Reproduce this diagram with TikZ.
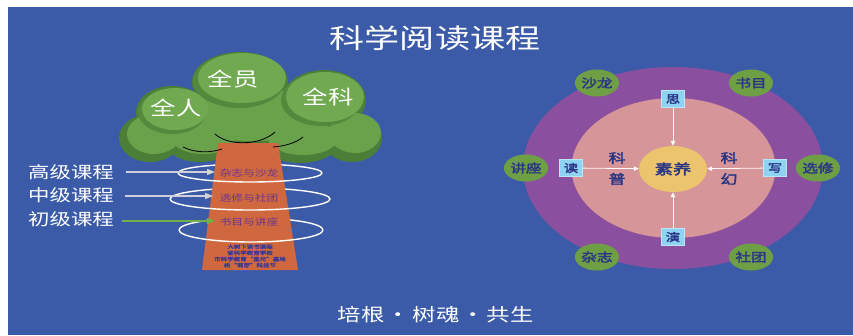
\documentclass[tikz,border=0pt]{standalone}
\usepackage{fontspec}
\setmainfont{Noto Sans CJK SC}[FakeStretch=1.3]
\newfontfamily\heavy{Noto Sans CJK SC}[FakeStretch=1.3,FakeBold=2.6]
\usetikzlibrary{arrows.meta,shapes.geometric}

\definecolor{bgblue}{HTML}{3B5BA8}
\definecolor{leafdark}{HTML}{4B7F37}
\definecolor{leafmid}{HTML}{6AA24B}
\definecolor{leaflight}{HTML}{70A950}
\definecolor{bark}{HTML}{D0683F}
\definecolor{barktext}{HTML}{6A3590}
\definecolor{barksmall}{HTML}{3C3A96}
\definecolor{outerring}{HTML}{8A4F9F}
\definecolor{innerring}{HTML}{D59599}
\definecolor{coregold}{HTML}{ECC46D}
\definecolor{boxblue}{HTML}{8FD3F2}
\definecolor{badgegreen}{HTML}{6E9F45}
\definecolor{navy}{HTML}{2A3585}
\definecolor{arrowgrey}{HTML}{D0D0DC}
\definecolor{arrowhead}{HTML}{E6EC9A}
\definecolor{arrowgreen}{HTML}{6FB048}

\tikzset{
  levellabel/.style={text=white, font=\fontsize{16.5}{18}\selectfont, inner sep=0pt},
  levelarrow/.style={line width=1.3pt, -{Triangle[length=8pt,width=6pt]}},
  barklabel/.style={text=barktext, font=\fontsize{9}{10}\selectfont, inner sep=0pt},
  ring/.style={white, line width=1.4pt},
  canopytext/.style={text=white, font=\fontsize{19.5}{21}\selectfont, inner sep=0pt},
  keybox/.style={fill=boxblue, draw=boxblue!60!white, line width=0.6pt,
    minimum width=23pt, minimum height=17pt, inner sep=0pt,
    text=navy, font=\heavy\fontsize{11}{12}\selectfont},
  badge/.style={ellipse, fill=badgegreen, minimum width=38pt, minimum height=27pt,
    inner sep=0pt, text=navy, font=\heavy\fontsize{12}{13}\selectfont},
  sidechar/.style={text=navy, font=\heavy\fontsize{13}{14}\selectfont, inner sep=0pt},
  feed/.style={draw=white!90!pink, line width=0.8pt, -{Triangle[length=5pt,width=4.5pt]}},
  motto/.style={text=white, font=\fontsize{18}{20}\selectfont, inner sep=0pt}
}

\begin{document}
\begin{tikzpicture}[x=1pt,y=-1pt]
\useasboundingbox (0,0) rectangle (853,335);
\fill[white] (0,0) rectangle (853,335);
\fill[bgblue] (8,7) rectangle (853,335);

% heading
\node[text=white, font=\fontsize{27}{30}\selectfont, inner sep=0pt] (title) at (435,38) {科学阅读课程};

% ---------- tree: canopy ----------
\fill[leafdark] (150,138) ellipse [x radius=31, y radius=24];
\fill[leafdark] (200,142) ellipse [x radius=35, y radius=20];
\fill[leafdark] (300,143) ellipse [x radius=38, y radius=20];
\fill[leafdark] (352,138) ellipse [x radius=30, y radius=24];
\fill[leafdark] (250,120) ellipse [x radius=85, y radius=30];
\fill[leafdark] (172,112) ellipse [x radius=36, y radius=26];
\fill[leafdark] (240,82) ellipse [x radius=48, y radius=30];
\fill[leafdark] (324,100) ellipse [x radius=42, y radius=30];

\fill[leafmid] (154,134) ellipse [x radius=27, y radius=20];
\fill[leafmid] (203,137) ellipse [x radius=32, y radius=17];
\fill[leafmid] (303,138) ellipse [x radius=35, y radius=17];
\fill[leafmid] (355,133) ellipse [x radius=26, y radius=20];
\fill[leafmid] (252,115) ellipse [x radius=80, y radius=26];

% upper lobes, each with a shadow rim
\fill[leafdark!70!leafmid] (172,112) ellipse [x radius=34, y radius=22];
\fill[leaflight] (175,109) ellipse [x radius=33, y radius=21];
\fill[leafdark!70!leafmid] (239,81) ellipse [x radius=46, y radius=27];
\fill[leaflight] (242,78) ellipse [x radius=44, y radius=25];
\fill[leafdark!70!leafmid] (321,100) ellipse [x radius=40, y radius=26];
\fill[leaflight] (325,97) ellipse [x radius=39, y radius=25];

\node[canopytext] (whole) at (176,108) {全人};
\node[canopytext] (staff) at (233,79) {全员};
\node[canopytext] (subj) at (328,97) {全科};

% back halves of the rings
\draw[ring] (250,173) ++(-72,0) arc[start angle=180, end angle=360, x radius=72, y radius=9];
\draw[ring] (250,199) ++(-80,0) arc[start angle=180, end angle=360, x radius=80, y radius=11];
\draw[ring] (251,230) ++(-72,0) arc[start angle=180, end angle=360, x radius=72, y radius=12];

% ---------- tree: trunk ----------
\fill[bark] (218,143) -- (278,143) -- (298,270) -- (202,270) -- cycle;

% branch lines
\draw[black, line width=0.8pt] (215,134) .. controls (228,146) and (260,146) .. (275,132);
\draw[black, line width=0.8pt] (183,147) .. controls (195,153) and (210,153) .. (222,149);
\draw[black, line width=0.8pt] (273,147) .. controls (285,146) and (296,143) .. (303,137);

% front halves of the rings
\draw[ring] (250,173) ++(72,0) arc[start angle=0, end angle=180, x radius=72, y radius=9];
\draw[ring] (250,199) ++(80,0) arc[start angle=0, end angle=180, x radius=80, y radius=11];
\draw[ring] (251,230) ++(72,0) arc[start angle=0, end angle=180, x radius=72, y radius=12];

\node[barklabel] (mag) at (249,173) {杂志与沙龙};
\node[barklabel] (elec) at (249,198) {选修与社团};
\node[barklabel] (lect) at (249,222) {书目与讲座};
\node[text=barksmall, font=\heavy\fontsize{5}{6.2}\selectfont, align=center, inner sep=0pt] (honours) at (250,256)
  {大树下读书课程\\省科学教育学校\\市科学教育“星光”基地\\校“萌芽”科技节};

% level labels and arrows
\node[levellabel] (high) at (71,172) {高级课程};
\node[levellabel] (mid) at (71,195) {中级课程};
\node[levellabel] (base) at (71,219) {初级课程};
\coordinate (highend) at (215,172);
\coordinate (midend) at (213,196);
\coordinate (baseend) at (215,221);
\draw[levelarrow, draw=arrowgrey, -{Triangle[length=8pt,width=6pt,fill=arrowhead]}] ([xshift=12pt]high.east) -- (highend);
\draw[levelarrow, draw=arrowgrey] ([xshift=12pt]mid.east) |- (midend);
\draw[levelarrow, draw=arrowgreen] ([xshift=8pt]base.east |- baseend) -- (baseend);

% ---------- literacy rings ----------
\fill[outerring] (673,168) ellipse [x radius=150, y radius=101];
\fill[innerring] (673.5,168) ellipse [x radius=102, y radius=70];
\node[ellipse, fill=coregold, minimum width=68pt, minimum height=46pt, inner sep=0pt,
      text=navy, font=\heavy\fontsize{14}{15}\selectfont] (core) at (673,169) {素养};

\node[keybox] (think) at (673,99) {思};
\node[keybox] (read) at (571,168) {读};
\node[keybox] (write) at (775,168) {写};
\node[keybox] (act) at (673,237) {演};

\draw[feed] (think) -- (core);
\draw[feed] (read) -- (core);
\draw[feed] (write) -- (core);
\draw[feed] (act) -- (core);

\node[sidechar] (popa) at (617,158) {科};
\node[sidechar] (popb) at (617,179) {普};
\node[sidechar] (fica) at (729,158) {科};
\node[sidechar] (ficb) at (729,179) {幻};

\node[badge] (salon) at (597,83) {沙龙};
\node[badge] (books) at (751,83) {书目};
\node[badge] (lectures) at (526,168) {讲座};
\node[badge] (electives) at (818,168) {选修};
\node[badge] (journals) at (597,257) {杂志};
\node[badge] (clubs) at (751,257) {社团};

% motto
\node[motto] (root) at (361,315) {培根};
\node[motto] (dota) at (398,317) {·};
\node[motto] (soul) at (436,315) {树魂};
\node[motto] (dotb) at (473,317) {·};
\node[motto] (grow) at (510,315) {共生};
\end{tikzpicture}
\end{document}
